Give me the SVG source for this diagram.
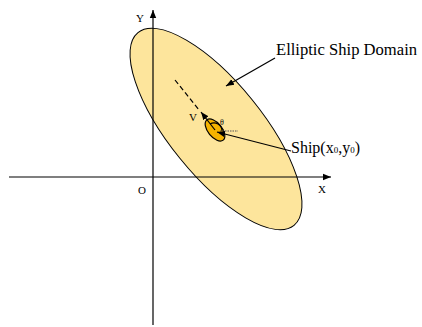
<svg xmlns="http://www.w3.org/2000/svg" width="422" height="327" viewBox="0 0 422 327">
<style>
.ln{stroke:#000;stroke-width:1.2;fill:none}
.t{font-family:"Liberation Serif","Times New Roman",serif;fill:#000}
</style>
<defs>
<marker id="ah" viewBox="0 0 10 10" refX="10" refY="5" markerWidth="8" markerHeight="8" markerUnits="userSpaceOnUse" orient="auto">
<path d="M0,1 L10,5 L0,9 Z" fill="#000"/>
</marker>
</defs>
<rect width="422" height="327" fill="#fff"/>
<g id="domain">
<ellipse cx="216" cy="129" rx="124" ry="46.5" transform="rotate(51 216 129)" fill="#fde59c" stroke="#000" stroke-width="1"/>
</g>
<g id="axes">
<line class="ln" x1="153" y1="325" x2="153" y2="10" marker-end="url(#ah)"/>
<line class="ln" x1="9" y1="177" x2="331" y2="177" marker-end="url(#ah)"/>
<text class="t" x="136" y="22" font-size="11">Y</text>
<text class="t" x="318" y="193" font-size="11">X</text>
<text class="t" x="138" y="194" font-size="11">O</text>
</g>
<g id="ship">
<ellipse cx="215" cy="130" rx="13" ry="7" transform="rotate(51 215 130)" fill="#f5b400" stroke="#000" stroke-width="1.2"/>
<path class="ln" d="M210,124 A8,8 0 0 1 222,131" stroke-width="1"/>
</g>
<g id="connectors">
<line class="ln" x1="175" y1="80" x2="199" y2="110" stroke-dasharray="5,3"/>
<line class="ln" x1="215" y1="130" x2="201" y2="112" marker-end="url(#ah)"/>
<line x1="220" y1="131" x2="238" y2="131" stroke="#555" stroke-width="1.2" stroke-dasharray="1.5,1"/>
<line class="ln" x1="275" y1="58" x2="226" y2="86" marker-end="url(#ah)"/>
<line class="ln" x1="291" y1="151" x2="217" y2="132" marker-end="url(#ah)"/>
</g>
<g id="labels">
<text class="t" x="189" y="121" font-size="11">V</text>
<text class="t" x="220" y="125" font-size="8" fill="#664">θ</text>
<text class="t" x="276" y="55" font-size="16.6">Elliptic Ship Domain</text>
<text class="t" x="291" y="153" font-size="16">Ship(x<tspan font-size="9">0</tspan>,y<tspan font-size="9">0</tspan>)</text>
</g>
</svg>
